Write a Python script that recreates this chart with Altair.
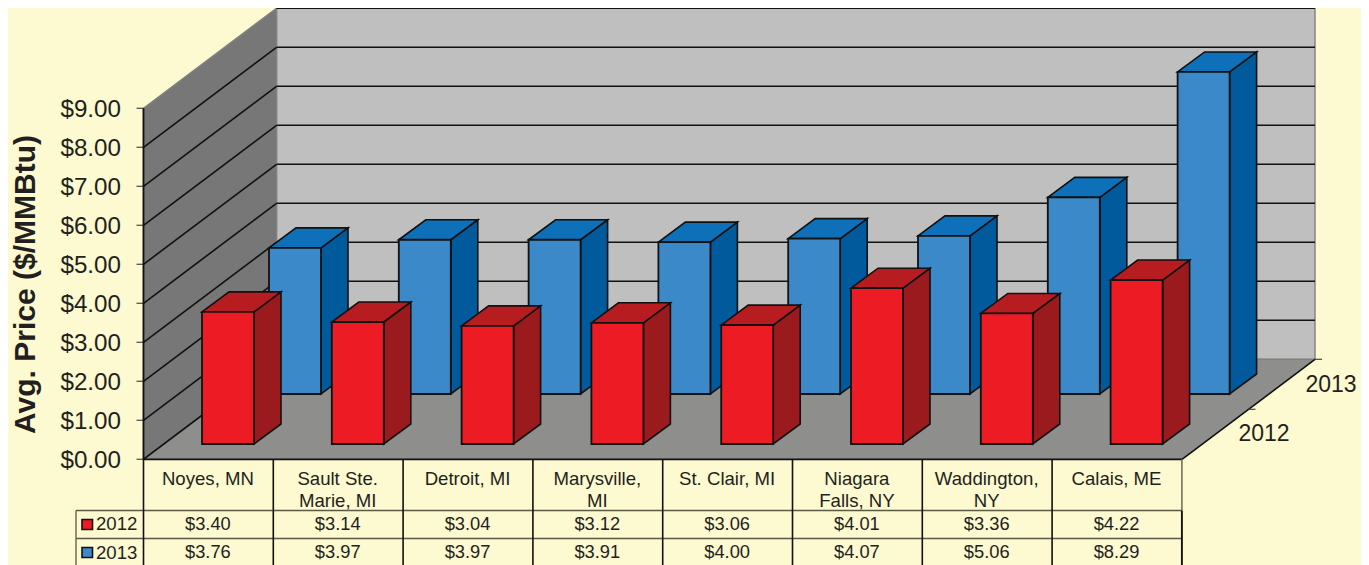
import altair as alt
import pandas as pd

# ---- chart values ----
categories = [["Noyes, MN"], ["Sault Ste.", "Marie, MI"], ["Detroit, MI"], ["Marysville,", "MI"],
              ["St. Clair, MI"], ["Niagara", "Falls, NY"], ["Waddington,", "NY"], ["Calais, ME"]]
v2012 = [3.40, 3.14, 3.04, 3.12, 3.06, 4.01, 3.36, 4.22]
v2013 = [3.76, 3.97, 3.97, 3.91, 4.00, 4.07, 5.06, 8.29]
ticks = list(range(10))
series = ["2012", "2013"]
y_title = "Avg. Price ($/MMBtu)"

# ---- oblique projection of the scene, in picture units ----
X0, X1, Y0 = 143.5, 1182.0, 459.3
DX, DY = 133.0, 100.0
UNIT = 39.0
BAR_UNIT = 38.85
STEP = 129.8
BAR_W, SIDE_X, SIDE_Y = 52.0, 27.0, 20.0
FONT = "Liberation Sans"
INK = "#231F20"
BG = "#FDF9D0"
W, H = 1353, 557

xs = alt.Scale(domain=[8, 8 + W], range=[0, W], nice=False, zero=False)
ys = alt.Scale(domain=[8, 8 + H], range=[0, H], nice=False, zero=False)
X = lambda f="x": alt.X(f"{f}:Q", scale=xs, axis=None)
Y = lambda f="y": alt.Y(f"{f}:Q", scale=ys, axis=None)
X2 = lambda f="x2": alt.X2(f"{f}:Q")
Y2 = lambda f="y2": alt.Y2(f"{f}:Q")


def vface(rows, color, stroke, sw=1.0):
    """Filled face between two boundaries; rows = (id, x, y, y2)."""
    df = pd.DataFrame(rows, columns=["id", "x", "y", "y2"])
    return alt.Chart(df).mark_area(orient="vertical", color=color, stroke=stroke, strokeWidth=sw, opacity=1).encode(
        x=X(), y=Y(), y2=Y2(), detail="id:N")


def hrows(key, x, width, y, dx, dy):
    """Outline of a receding face with horizontal edges; front edge at y, from x to x+width."""
    return [(key, x, y, y), (key, x + dx, y - dy, y), (key, x + width, y - dy, y),
            (key, x + width + dx, y - dy, y - dy)]


def rules(rows, color, sw=1.0):
    df = pd.DataFrame(rows, columns=["x", "y", "x2", "y2"])
    return alt.Chart(df).mark_rule(color=color, strokeWidth=sw).encode(x=X(), y=Y(), x2=X2(), y2=Y2())


def texts(rows, size, align="center", bold=False, angle=0):
    df = pd.DataFrame(rows, columns=["x", "y", "t"])
    return alt.Chart(df).mark_text(font=FONT, fontSize=size, align=align, baseline="middle", color=INK,
                                   fontWeight="bold" if bold else "normal", angle=angle).encode(
        x=X(), y=Y(), text="t:N")


def bars(values, x_first, base, front, side, top):
    fr, sd, tp = [], [], []
    for i, v in enumerate(values):
        x = x_first + STEP * i
        y = base - v * BAR_UNIT
        fr.append((x, y, x + BAR_W, base))
        sd += [(i, x + BAR_W, y, base), (i, x + BAR_W + SIDE_X, y - SIDE_Y, base - SIDE_Y)]
        tp += hrows(i, x, BAR_W, y, SIDE_X, SIDE_Y)
    df = pd.DataFrame(fr, columns=["x", "y", "x2", "y2"])
    f = alt.Chart(df).mark_rect(color=front, stroke="#111", strokeWidth=1.8).encode(x=X(), y=Y(), x2=X2(), y2=Y2())
    return [vface(sd, side, "#111", 1.6), vface(tp, top, "#111", 1.6), f]


layers = []
# walls and floor
layers.append(vface([(0, X0 + DX, Y0 - DY - 9 * UNIT, Y0 - DY)] + [(0, X1 + DX, Y0 - DY - 9 * UNIT, Y0 - DY)],
                    "#BFBFBF", "#808080", 1.4))
layers.append(vface([(0, X0, Y0 - 9 * UNIT, Y0), (0, X0 + DX, Y0 - DY - 9 * UNIT, Y0 - DY)], "#777777", "#808080", 1.4))
# grid lines
layers.append(rules([(X0, Y0 - t * UNIT, X0 + DX, Y0 - DY - t * UNIT) for t in ticks[:-1]], "#111", 1.6))
layers.append(rules([(X0 + DX, Y0 - DY - t * UNIT, X1 + DX, Y0 - DY - t * UNIT) for t in ticks[1:]], "#111", 1.6))
layers.append(vface(hrows(0, X0, X1 - X0, Y0, DX, DY), "#8E8F8D", "#808080"))
layers.append(rules([(X0, Y0, X0 + DX, Y0 - DY), (X1, Y0, X1 + DX, Y0 - DY)], "#111", 1.6))
layers.append(rules([(X1 + DX, Y0 - DY, X1 + DX + 7, Y0 - DY),
                     (X1 + DX / 2, Y0 - DY / 2, X1 + DX / 2 + 7, Y0 - DY / 2)], "#444", 1.2))
# bars, back row first
layers += bars(v2013, 269.0, 394.0, "#3C89C9", "#005A9C", "#0D70B8")
layers += bars(v2012, 202.0, 444.0, "#ED1C24", "#9A1A1E", "#B71C20")
# value axis
layers.append(rules([(X0 - 7, Y0 - t * UNIT, X0, Y0 - t * UNIT) for t in ticks], "#555", 1.3))
layers.append(rules([(X0, Y0 - 9 * UNIT, X0, Y0)], "#111", 1.8))
layers.append(texts([(121, Y0 - t * UNIT + 1.5, f"${t}.00") for t in ticks], 24.2, align="right"))
layers.append(texts([(26, 284.5, y_title)], 30, bold=True, angle=270))
# depth axis labels
layers.append(texts([(1264, 433.5, series[0]), (1331, 384.5, series[1])], 23))

# data table
ROW = [Y0, 510.5, 538.5, 565.0]
LEFT = 76.0
cols = [X0 + STEP * i for i in range(len(v2012) + 1)]
layers.append(rules([(X0, ROW[0], X1, ROW[0])], "#111", 1.8))
layers.append(rules([(LEFT, r, X1, r) for r in ROW[1:3]], "#5A5A45", 1.5))
layers.append(rules([(c, ROW[0], c, ROW[3]) for c in cols[:-1]], "#111", 1.6))
layers.append(rules([(cols[-1], ROW[0], cols[-1], ROW[1])], "#6A6A55", 1.5))
layers.append(rules([(cols[-1], ROW[1], cols[-1], ROW[3])], "#111", 1.9))
layers.append(rules([(LEFT, ROW[1], LEFT, ROW[3])], "#5A5A45", 1.3))
cat_rows = []
for i, lines in enumerate(categories):
    for j, line in enumerate(lines):
        cat_rows.append((X0 + STEP * (i + 0.5) - 0.5, 479 + 21.5 * j, line))
layers.append(texts(cat_rows, 18.6))
val_rows = []
for i in range(len(v2012)):
    val_rows.append((X0 + STEP * (i + 0.5) - 0.5, 525, f"${v2012[i]:.2f}"))
    val_rows.append((X0 + STEP * (i + 0.5) - 0.5, 553, f"${v2013[i]:.2f}"))
layers.append(texts(val_rows, 18.3))
layers.append(texts([(96, 524, series[0]), (96, 553, series[1])], 18.6, align="left"))
for cy, c in [(524.5, "#ED1C24"), (552.5, "#3C89C9")]:
    df = pd.DataFrame([(82, cy - 5, 92.5, cy + 5)], columns=["x", "y", "x2", "y2"])
    layers.append(alt.Chart(df).mark_rect(color=c, stroke="#111", strokeWidth=1.6).encode(
        x=X(), y=Y(), x2=X2(), y2=Y2()))

chart = alt.layer(*layers).properties(
    width=W, height=H, padding=0, background=BG,
    autosize=alt.AutoSizeParams(type="none"),
).configure_view(stroke=None)

chart.save("out.html", embed_options={"renderer": "svg", "actions": False})
